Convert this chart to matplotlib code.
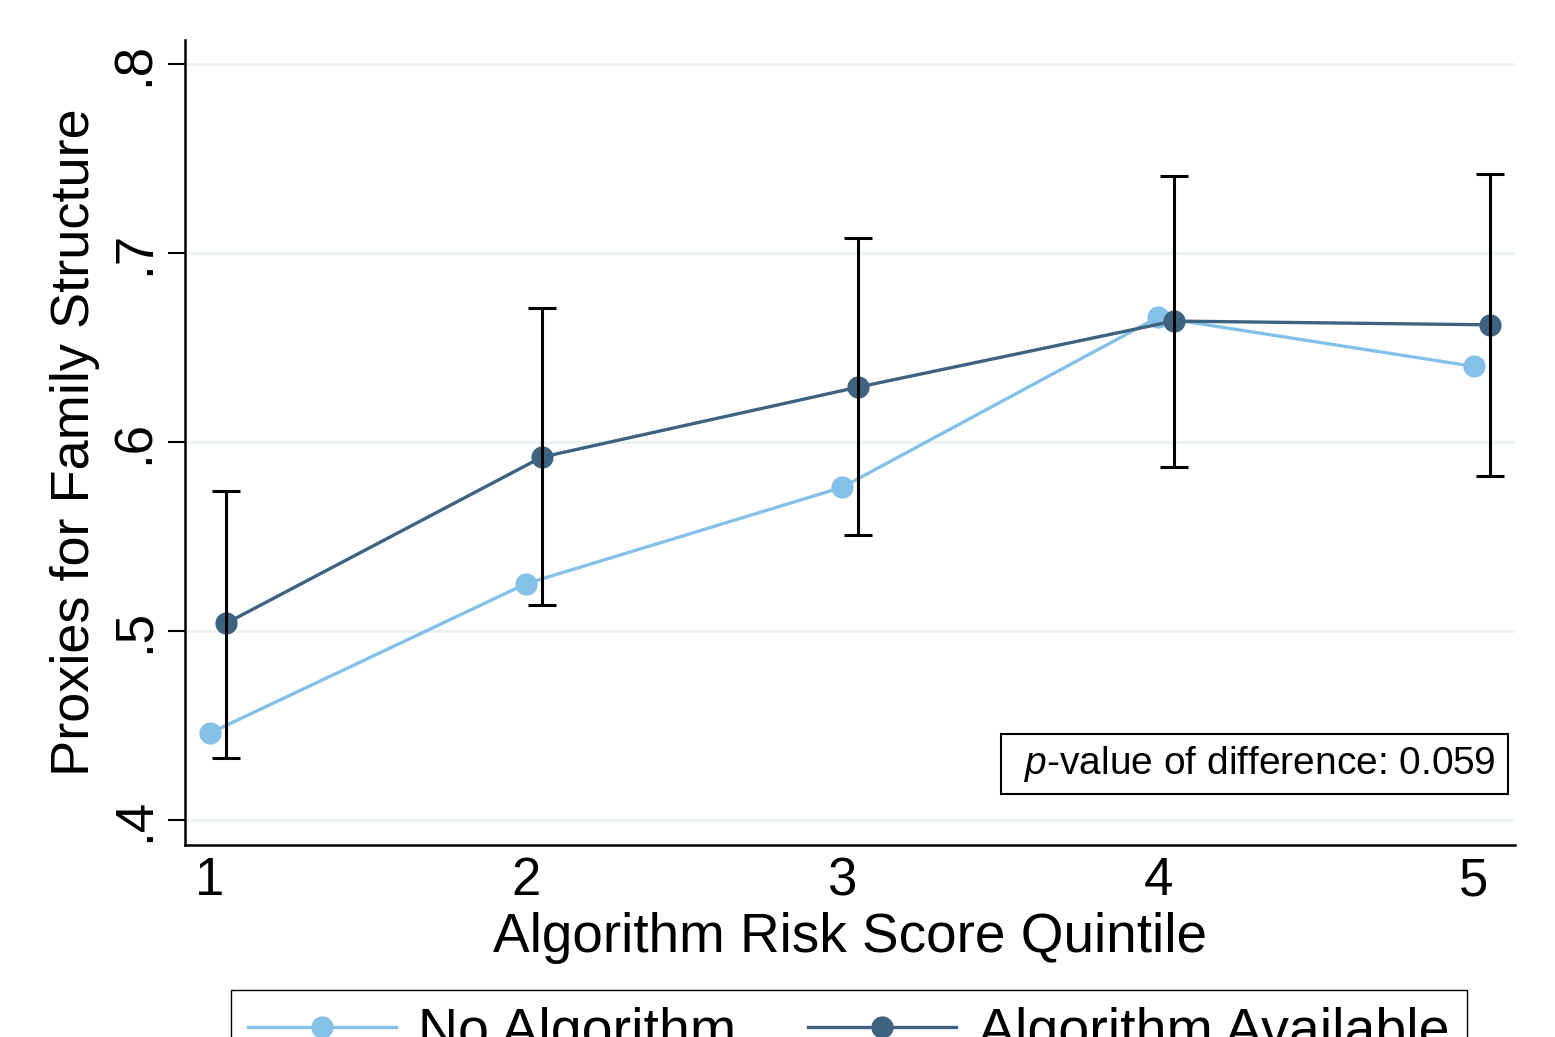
import matplotlib
matplotlib.use("Agg")
import matplotlib.pyplot as plt
from matplotlib.patches import Rectangle
import numpy as np

# datos
quintiles = [1, 2, 3, 4, 5]
no_algoritmo = [0.446, 0.525, 0.576, 0.666, 0.640]
con_algoritmo = [0.504, 0.592, 0.629, 0.664, 0.662]
ic_bajo = [0.433, 0.514, 0.551, 0.587, 0.582]
ic_alto = [0.574, 0.671, 0.708, 0.741, 0.742]
desplazamiento = 0.05

plt.rcParams['font.family'] = ['Liberation Sans', 'DejaVu Sans']
plt.rcParams['mathtext.fontset'] = 'custom'
plt.rcParams['mathtext.rm'] = 'Liberation Sans'
plt.rcParams['mathtext.it'] = 'Liberation Sans:italic'

AZUL_CLARO = '#85c0e9'
AZUL_OSCURO = '#3e6380'

fig = plt.figure(figsize=(15.55, 10.37), dpi=100)
ax = fig.add_axes([0.119, 0.1852, 0.8553, 0.7762])

x_alg = np.array(quintiles) + desplazamiento
con = np.array(con_algoritmo)

ax.plot(quintiles, no_algoritmo, color=AZUL_CLARO, lw=2.4, marker='o', ms=15,
        label='No Algorithm', zorder=3)
ax.plot(x_alg, con_algoritmo, color=AZUL_OSCURO, lw=2.4, marker='o', ms=15,
        label='Algorithm Available', zorder=4)
ax.errorbar(x_alg, con, yerr=[con - np.array(ic_bajo), np.array(ic_alto) - con],
            fmt='none', ecolor='black', elinewidth=2.2, capsize=10, capthick=2.2, zorder=5)

ax.set_xlim(0.921, 5.13)
ax.set_ylim(0.3868, 0.8127)
ax.set_xticks(quintiles)
ax.set_yticks([0.4, 0.5, 0.6, 0.7, 0.8])
ax.set_yticklabels(['.4', '.5', '.6', '.7', '.8'], rotation=90, va='center')
ax.tick_params(axis='y', length=12, width=1.5, labelsize=38, pad=6)
ax.tick_params(axis='x', length=0, labelsize=38, pad=8)
ax.grid(axis='y', color='#eaf2f3', lw=2)
ax.set_axisbelow(True)
for lado in ['top', 'right']:
    ax.spines[lado].set_visible(False)
for lado in ['left', 'bottom']:
    ax.spines[lado].set_linewidth(1.8)

ax.set_xlabel('Algorithm Risk Score Quintile', fontsize=39.5, labelpad=4)
ax.set_ylabel('Proxies for Family Structure', fontsize=39, labelpad=7)

# recuadro del p-valor
ax.add_patch(Rectangle((0.6135, 0.0634), 0.3812, 0.0745, transform=ax.transAxes,
                       fc='white', ec='black', lw=1.5, zorder=6))
ax.text(0.985, 0.1006, r'$\it{p}$-value of difference: 0.059', transform=ax.transAxes,
        ha='right', va='center', fontsize=28, zorder=7)

fig.legend(loc='upper center', bbox_to_anchor=(0.546, 0.0453), ncol=2, fontsize=40,
           frameon=True, fancybox=False, edgecolor='black', handlelength=2.66,
           handletextpad=0.4, columnspacing=1.3, borderpad=0.3, borderaxespad=0,
           framealpha=1)

fig.savefig('out.png', dpi=100)
